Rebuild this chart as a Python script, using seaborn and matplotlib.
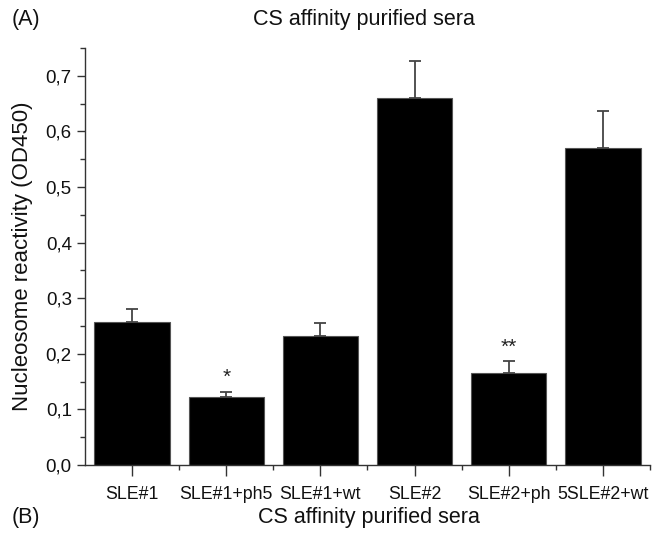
import numpy as np
import pandas as pd
import matplotlib
matplotlib.use("Agg")
import matplotlib.pyplot as plt
from matplotlib.ticker import MultipleLocator, FixedLocator, FuncFormatter
import seaborn as sns

# Nucleosome reactivity of CS affinity purified sera (mean OD450 and SD)
samples = ["SLE#1", "SLE#1+ph5", "SLE#1+wt", "SLE#2", "SLE#2+ph", "5SLE#2+wt"]
od450 = [0.258, 0.122, 0.232, 0.660, 0.166, 0.570]
sd = [0.022, 0.010, 0.023, 0.067, 0.021, 0.066]
significance = ["", "*", "", "", "**", ""]

df = pd.DataFrame({"sample": samples, "od": od450})

sns.set_theme(style="ticks")
plt.rcParams["font.family"] = ["Liberation Sans", "DejaVu Sans"]

fig = plt.figure(figsize=(6.7, 5.35), dpi=100)
ax = fig.add_axes([85 / 670, 1 - 465 / 535, 565 / 670, 417 / 535])

sns.barplot(data=df, x="sample", y="od", color="black", width=0.8,
            edgecolor="#555555", linewidth=0.8, saturation=1, ax=ax,
            errorbar=None)

x = np.arange(len(samples))
ax.errorbar(x, od450, yerr=[np.zeros(len(sd)), sd], fmt="none",
            ecolor="#444444", elinewidth=1.3, capsize=4, capthick=1.3)

for xi, top, mark in zip(x, np.add(od450, sd), significance):
    if mark:
        ax.text(xi, top + 0.008, mark, ha="center", va="bottom",
                fontsize=15, color="#222222")

ax.set_xlim(-0.5, 5.5)
ax.set_ylim(0, 0.75)
ax.yaxis.set_major_locator(MultipleLocator(0.1))
ax.yaxis.set_minor_locator(MultipleLocator(0.05))
ax.yaxis.set_major_formatter(FuncFormatter(lambda v, p: f"{v:.1f}".replace(".", ",")))
ax.xaxis.set_minor_locator(FixedLocator(np.arange(0.5, 6, 1.0)))

ax.tick_params(axis="both", which="major", direction="out", length=6,
               width=1, color="#333333", labelsize=13.5, labelcolor="#111111")
ax.tick_params(axis="x", which="major", length=8, pad=7, labelsize=12.8)
ax.tick_params(axis="both", which="minor", direction="out", length=3.5,
               width=1, color="#333333")

ax.set_xlabel("")
ax.set_ylabel("Nucleosome reactivity (OD450)", fontsize=16, color="#111111",
              labelpad=9)

for side in ["top", "right"]:
    ax.spines[side].set_visible(False)
for side in ["left", "bottom"]:
    ax.spines[side].set_color("#333333")
    ax.spines[side].set_linewidth(1)

fig.text(12 / 670, 1 - 19 / 535, "(A)", fontsize=15.5, va="center", ha="left",
         color="#111111")
fig.text(364 / 670, 1 - 19 / 535, "CS affinity purified sera", fontsize=15.5,
         va="center", ha="center", color="#111111")
fig.text(12 / 670, 1 - 518 / 535, "(B)", fontsize=15.5, va="center", ha="left",
         color="#111111")
fig.text(369 / 670, 1 - 518 / 535, "CS affinity purified sera", fontsize=15.5,
         va="center", ha="center", color="#111111")

fig.savefig("out.png", dpi=100)
